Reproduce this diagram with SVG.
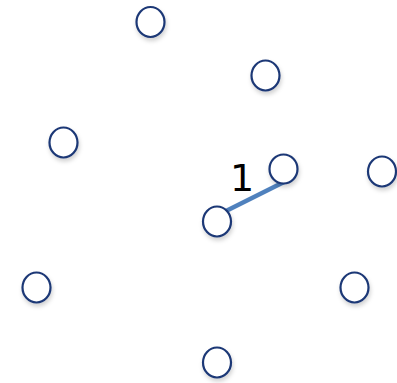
<svg xmlns="http://www.w3.org/2000/svg" width="397" height="383" viewBox="0 0 397 383">
<defs>
<filter id="sh" x="-50%" y="-50%" width="200%" height="200%">
<feDropShadow dx="1" dy="3" stdDeviation="2" flood-color="#000" flood-opacity="0.18"/>
</filter>
<style>
.n{fill:#fff;stroke:#1c3876;stroke-width:2.2;filter:url(#sh)}
.e{stroke:#4f81bd;stroke-width:4.5;fill:none}
.t{font-family:"DejaVu Sans",sans-serif;font-size:38px;fill:#000}
</style>
</defs>
<rect width="397" height="383" fill="#fff"/>
<g id="connectors">
<line class="e" x1="226" y1="211" x2="284" y2="182"/>
<text class="t" x="230" y="191">1</text>
</g>
<g id="n1"><ellipse class="n" cx="150.5" cy="22" rx="14" ry="15"/></g>
<g id="n2"><ellipse class="n" cx="265.5" cy="75.5" rx="14" ry="15"/></g>
<g id="n3"><ellipse class="n" cx="63.5" cy="142.5" rx="14" ry="15"/></g>
<g id="n4"><ellipse class="n" cx="283.5" cy="169" rx="14" ry="14.5"/></g>
<g id="n5"><ellipse class="n" cx="382" cy="171.5" rx="14" ry="15"/></g>
<g id="n6"><ellipse class="n" cx="217" cy="221.5" rx="14" ry="15"/></g>
<g id="n7"><ellipse class="n" cx="36.5" cy="287.5" rx="14" ry="15"/></g>
<g id="n8"><ellipse class="n" cx="354.5" cy="287.5" rx="14" ry="15"/></g>
<g id="n9"><ellipse class="n" cx="217" cy="362.5" rx="14" ry="15"/></g>
</svg>
